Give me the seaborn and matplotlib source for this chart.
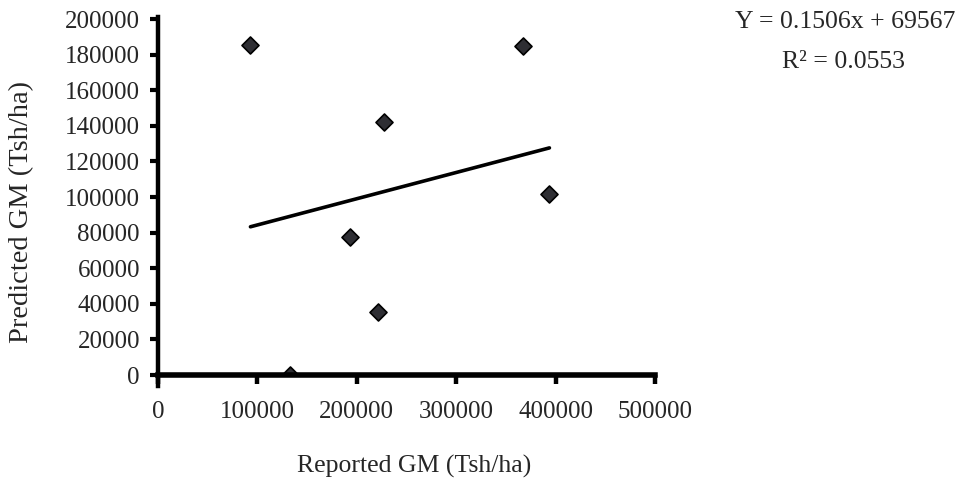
import matplotlib
matplotlib.use("Agg")
import matplotlib.pyplot as plt
import seaborn as sns
import pandas as pd

# Data
reported_gm = [93000, 367000, 227600, 393800, 192700, 221500, 132900]
predicted_gm = [185400, 184800, 142300, 101500, 77700, 35200, 0]
x_ticks = [0, 100000, 200000, 300000, 400000, 500000]
y_ticks = [0, 20000, 40000, 60000, 80000, 100000, 120000, 140000, 160000, 180000, 200000]
equation_text = "Y = 0.1506x + 69567"
r2_text = "R\u00b2 = 0.0553"
x_label = "Reported GM (Tsh/ha)"
y_label = "Predicted GM (Tsh/ha)"

df = pd.DataFrame({"reported": reported_gm, "predicted": predicted_gm})

sns.set_theme(style="white")
plt.rcParams["font.family"] = ["Liberation Serif", "DejaVu Serif"]

fig = plt.figure(figsize=(9.66, 4.95), dpi=100)
ax = fig.add_axes([158 / 966, 1 - 375 / 495, 497 / 966, 356 / 495])

sns.regplot(data=df, x="reported", y="predicted", ax=ax, scatter=False, ci=None,
            truncate=True, line_kws={"color": "black", "linewidth": 2.6})
sns.scatterplot(data=df, x="reported", y="predicted", ax=ax, marker="D", s=75,
                color="#2e2e33", edgecolor="black", linewidth=1.2, zorder=2)

ax.set_xlim(0, 500000)
ax.set_ylim(0, 200000)
ax.set_xticks(x_ticks)
ax.set_yticks(y_ticks)
ax.set_xticklabels([str(v) for v in x_ticks], fontsize=18)
ax.set_yticklabels([str(v) for v in y_ticks], fontsize=18)

for side in ["top", "right"]:
    ax.spines[side].set_visible(False)
ax.spines["left"].set_linewidth(3.2)
ax.spines["bottom"].set_linewidth(4.0)
ax.spines["left"].set_color("black")
ax.spines["bottom"].set_color("black")
ax.spines["left"].set_bounds(-6000, 201000)

ax.tick_params(axis="x", bottom=True, direction="out", length=6.5, width=3.2, color="black", pad=12)
ax.tick_params(axis="y", left=True, direction="out", length=6, width=3, color="black", pad=7)

ax.set_xlabel(x_label, fontsize=18.5, va="top")
ax.xaxis.set_label_coords(0.515, -0.225)
ax.set_ylabel(y_label, fontsize=20.5, va="center")
ax.yaxis.set_label_coords(-0.274, 0.458)
ax.grid(False)

fig.text(845 / 966, 1 - 22 / 495, equation_text, fontsize=18.5, ha="center", va="center")
fig.text(844 / 966, 1 - 62 / 495, r2_text, fontsize=18.5, ha="center", va="center")

fig.savefig("out.png", dpi=100)
